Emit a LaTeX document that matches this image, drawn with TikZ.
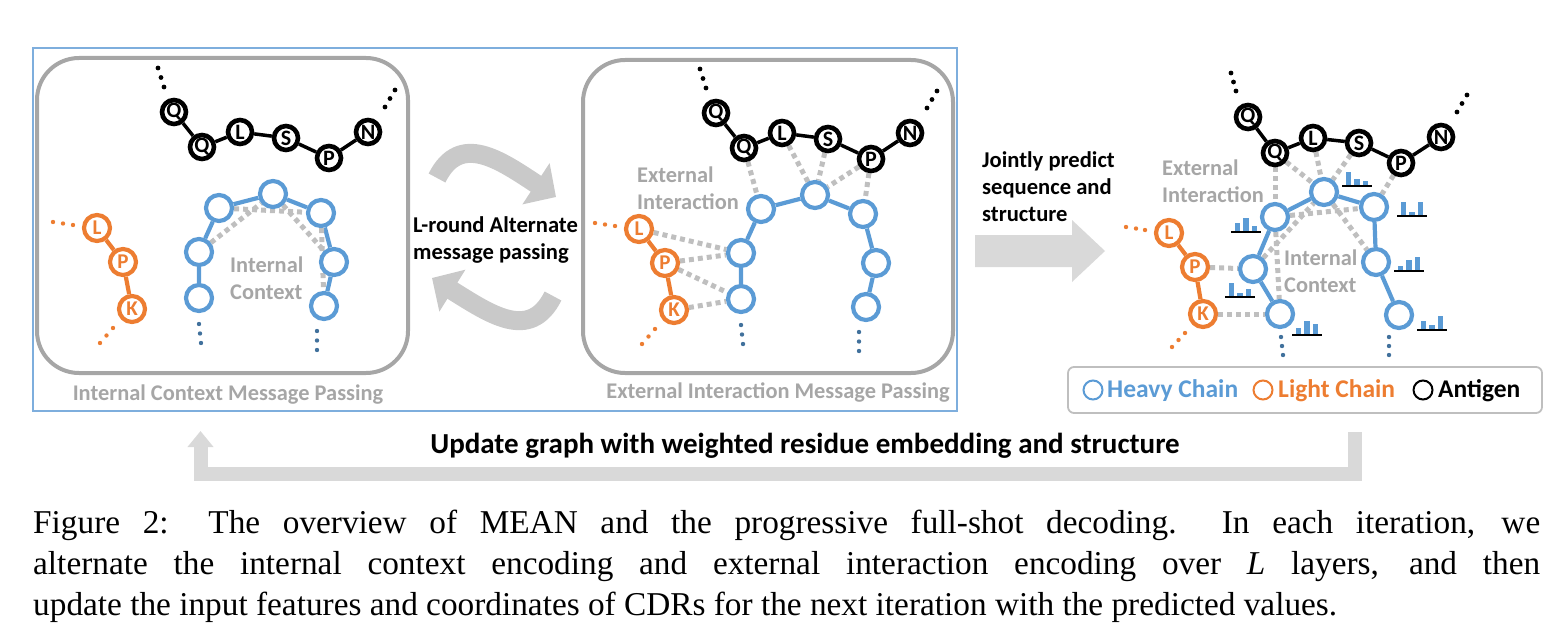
\documentclass[tikz,border=0pt]{standalone}
\usepackage{fontspec}
\setmainfont{Liberation Serif}
\newfontfamily\calfont{Carlito}
\usetikzlibrary{arrows.meta,backgrounds}
\definecolor{hblue}{HTML}{5B9BD5}
\definecolor{lorange}{HTML}{ED7D31}
\definecolor{boxgray}{HTML}{A6A6A6}
\definecolor{txtgray}{HTML}{A6A6A6}
\definecolor{dashgray}{HTML}{BFBFBF}
\definecolor{dotblue}{HTML}{41719C}
\definecolor{arrgray}{HTML}{C9C9C9}
\definecolor{lightarr}{HTML}{D9D9D9}
\definecolor{frameblue}{HTML}{7EAEDD}
\definecolor{legendgray}{HTML}{BFBFBF}
\tikzset{
  ag/.style={circle, draw=black, line width=4.6pt, fill=white, minimum size=24pt, inner sep=0pt, font=\calfont\bfseries\fontsize{22}{22}\selectfont},
  hc/.style={circle, draw=hblue, line width=4.2pt, fill=white, minimum size=26pt, inner sep=0pt},
  lc/.style={circle, draw=lorange, line width=4.2pt, fill=white, minimum size=26pt, inner sep=0pt, text=lorange, font=\calfont\bfseries\fontsize{21}{21}\selectfont},
  agl/.style={black, line width=3.5pt},
  hcl/.style={hblue, line width=4.2pt},
  lcl/.style={lorange, line width=4.2pt},
  ctx/.style={dashgray, line width=5pt, dash pattern=on 5pt off 4pt},
  graylbl/.style={text=txtgray, font=\calfont\bfseries\fontsize{22.4}{27}\selectfont, inner sep=0pt, align=left},
  blacklbl/.style={text=black, font=\calfont\bfseries\fontsize{22.6}{27}\selectfont, inner sep=0pt, align=left},
  panelbox/.style={draw=boxgray, line width=4pt, rounded corners=42pt},
  legtxt/.style={font=\calfont\bfseries\fontsize{25.5}{25.5}\selectfont, inner sep=0pt, anchor=west},
  legcirc/.style={circle, line width=2pt, minimum size=19pt, inner sep=0pt},
  bigarrow/.style={lightarr},
  curvarrow/.style={arrgray, line width=19pt, -{Triangle[length=24pt,width=48pt]}},
  captxt/.style={anchor=base west, inner sep=0pt, font=\fontsize{33.3}{40}\selectfont},
}
% chains of the left / middle panels (prefix #1)
\newcommand{\chainpanel}[1]{%
  \node[ag] (#1Q1) at (174,112) {Q};
  \node[ag] (#1Q2) at (202,147) {Q};
  \node[ag] (#1L)  at (240,132) {L};
  \node[ag] (#1S)  at (286,138) {S};
  \node[ag] (#1P)  at (329,158) {P};
  \node[ag] (#1N)  at (368,132) {N};
  \fill (158,68) circle (2.4pt); \fill (161,77.5) circle (2.4pt); \fill (164,87) circle (2.4pt);
  \fill (395,90) circle (2.4pt); \fill (390,98.5) circle (2.4pt); \fill (385,107) circle (2.4pt);
  \node[lc] (#1oL) at (97,228) {L};
  \node[lc] (#1oP) at (123,262) {P};
  \node[lc] (#1oK) at (132,309) {K};
  \fill[lorange] (53,222) circle (2.2pt); \fill[lorange] (63,223.5) circle (2.2pt); \fill[lorange] (73,225) circle (2.2pt);
  \fill[lorange] (100,343) circle (2.2pt); \fill[lorange] (106.5,335.5) circle (2.2pt); \fill[lorange] (113,328) circle (2.2pt);
  \node[hc] (#1b1) at (199,252) {};
  \node[hc] (#1b2) at (219,208) {};
  \node[hc] (#1b3) at (273,194) {};
  \node[hc] (#1b4) at (321,213) {};
  \node[hc] (#1b5) at (334,262) {};
  \node[hc] (#1b6) at (324,306) {};
  \node[hc] (#1b7) at (199,298) {};
  \fill[dotblue] (199,324) circle (2.2pt); \fill[dotblue] (200,333.5) circle (2.2pt); \fill[dotblue] (201,343) circle (2.2pt);
  \fill[dotblue] (317,331) circle (2.2pt); \fill[dotblue] (317,340.5) circle (2.2pt); \fill[dotblue] (317,350) circle (2.2pt);
  \begin{pgfonlayer}{background}
    \draw[agl] (#1Q1) -- (#1Q2) -- (#1L) -- (#1S) -- (#1P) -- (#1N);
    \draw[lcl] (#1oL) -- (#1oP) -- (#1oK);
    \draw[hcl] (#1b7) -- (#1b1) -- (#1b2) -- (#1b3) -- (#1b4) -- (#1b5) -- (#1b6);
  \end{pgfonlayer}
}
% histogram: x, y(baseline), h1, h2, h3
\newcommand{\hist}[5]{%
  \fill[hblue] (#1+3.5,#2) rectangle ++(5.8,-#3);
  \fill[hblue] (#1+12,#2) rectangle ++(5.8,-#4);
  \fill[hblue] (#1+20.5,#2) rectangle ++(5.8,-#5);
  \draw[black, line width=1.1pt] (#1,#2) -- ++(30,0);
}
\begin{document}
\begin{tikzpicture}[x=1pt,y=-1pt]
\useasboundingbox (0,0) rectangle (1565,634);

% frame and panel boxes
\draw[frameblue, line width=1.3pt] (33,48) rectangle (957,411);
\draw[panelbox] (37,58) rectangle (408,373);
\draw[panelbox] (583,60) rectangle (953,373);
\node[graylbl] (t1) at (228,395) {Internal Context Message Passing};
\node[graylbl] (t2) at (778,393) {External Interaction Message Passing};

% left panel
\chainpanel{l}
\node[graylbl, anchor=west] (lic) at (230,278) {Internal\\Context};
\begin{pgfonlayer}{background}
  \draw[ctx] (lb1) -- (lb3);
  \draw[ctx] (lb2) -- (lb4);
  \draw[ctx] (lb3) -- (lb5);
  \draw[ctx] (lb4) -- (lb6);
\end{pgfonlayer}

% middle panel
\begin{scope}[shift={(542,1)}]
\chainpanel{m}
\end{scope}
\node[graylbl, anchor=west] (mei) at (637,188) {External\\Interaction};
\begin{pgfonlayer}{background}
  \draw[ctx] (mQ2) -- (mb2);
  \draw[ctx] (mL) -- (mb3);
  \draw[ctx] (mS) -- (mb3);
  \draw[ctx] (mP) -- (mb3);
  \draw[ctx] (mP) -- (mb4);
  \draw[ctx] (moL) -- (mb1);
  \draw[ctx] (moP) -- (mb1);
  \draw[ctx] (moP) -- (mb7);
  \draw[ctx] (moK) -- (mb7);
\end{pgfonlayer}

% alternating arrows
\node[blacklbl, anchor=west] (alt) at (413,240) {L-round Alternate\\message passing};
\coordinate (a1s) at (437,178);
\coordinate (a1e) at (556,197);
\coordinate (a2s) at (553,296);
\coordinate (a2e) at (432,278);
\draw[curvarrow] (a1s) .. controls (460,132) and (500,160) .. (a1e);
\draw[curvarrow] (a2s) .. controls (530,342) and (490,314) .. (a2e);

% right big arrow
\node[blacklbl, anchor=west] (jp) at (982,187) {Jointly predict\\sequence and\\structure};
\fill[bigarrow] (975,235) -- (1072,235) -- (1072,220) -- (1105,251) -- (1072,282) -- (1072,267) -- (975,267) -- cycle;

% right panel
\node[ag] (rQ1) at (1248,117) {Q};
\node[ag] (rQ2) at (1275,153) {Q};
\node[ag] (rL)  at (1313,138) {L};
\node[ag] (rS)  at (1359,143) {S};
\node[ag] (rP)  at (1401,163) {P};
\node[ag] (rN)  at (1441,137) {N};
\fill (1231,73) circle (2.4pt); \fill (1233.5,82) circle (2.4pt); \fill (1236,91) circle (2.4pt);
\fill (1467,95) circle (2.4pt); \fill (1462,103.5) circle (2.4pt); \fill (1457,112) circle (2.4pt);
\node[lc] (roL) at (1169,233) {L};
\node[lc] (roP) at (1195,267) {P};
\node[lc] (roK) at (1203,314) {K};
\fill[lorange] (1126,227) circle (2.2pt); \fill[lorange] (1136,228.5) circle (2.2pt); \fill[lorange] (1145,230) circle (2.2pt);
\fill[lorange] (1172,347) circle (2.2pt); \fill[lorange] (1178.5,340) circle (2.2pt); \fill[lorange] (1185,333) circle (2.2pt);
\node[hc] (rb1) at (1253,269) {};
\node[hc] (rb2) at (1275,217) {};
\node[hc] (rb3) at (1324,192) {};
\node[hc] (rb4) at (1374,207) {};
\node[hc] (rb5) at (1376,262) {};
\node[hc] (rb6) at (1399,315) {};
\node[hc] (rb7) at (1280,314) {};
\fill[dotblue] (1281,337) circle (2.2pt); \fill[dotblue] (1282,346) circle (2.2pt); \fill[dotblue] (1283,355) circle (2.2pt);
\fill[dotblue] (1389,337) circle (2.2pt); \fill[dotblue] (1389,346) circle (2.2pt); \fill[dotblue] (1389,355) circle (2.2pt);
\node[graylbl, anchor=west] (rei) at (1162,181) {External\\Interaction};
\node[graylbl, anchor=west] (ric) at (1284,271) {Internal\\Context};
\begin{pgfonlayer}{background}
  \draw[agl] (rQ1) -- (rQ2) -- (rL) -- (rS) -- (rP) -- (rN);
  \draw[lcl] (roL) -- (roP) -- (roK);
  \draw[hcl] (rb7) -- (rb1) -- (rb2) -- (rb3) -- (rb4) -- (rb5) -- (rb6);
  \draw[ctx] (rQ2) -- (rb2);
  \draw[ctx] (rQ2) -- (rb3);
  \draw[ctx] (rL) -- (rb3);
  \draw[ctx] (rS) -- (rb3);
  \draw[ctx] (rP) -- (rb4);
  \draw[ctx] (roP) -- (rb1);
  \draw[ctx] (roK) -- (rb7);
  \draw[ctx] (rb1) -- (rb3);
  \draw[ctx] (rb2) -- (rb4);
  \draw[ctx] (rb3) -- (rb5);
  \draw[ctx] (rb2) -- (rb7);
\end{pgfonlayer}
\hist{1342}{186}{14}{7}{5}
\hist{1397}{216}{14}{4}{14}
\hist{1231}{232}{9}{14}{6}
\hist{1394}{271}{5}{11}{14}
\hist{1225}{297}{14}{4}{8}
\hist{1292}{335}{7}{14}{11}
\hist{1417}{330}{9}{5}{14}

% legend
\node[draw=legendgray, line width=1.8pt, rounded corners=6pt, minimum width=474pt, minimum height=46pt, inner sep=0pt] (legend) at (1305,390) {};
\node[legcirc, draw=hblue] (lgh) at (1093,390) {};
\node[legtxt, text=hblue] (lght) at (1107,391) {Heavy Chain};
\node[legcirc, draw=lorange] (lgl) at (1263,390) {};
\node[legtxt, text=lorange] (lglt) at (1278,391) {Light Chain};
\node[legcirc, draw=black] (lga) at (1423,390) {};
\node[legtxt, text=black] (lgat) at (1438,391) {Antigen};

% feedback arrow
\coordinate (fbs) at (1355,432);
\coordinate (fbc1) at (1355,473.5);
\coordinate (fbc2) at (200.5,473.5);
\coordinate (fbe) at (200.5,431);
\draw[lightarr, line width=14pt, -{Triangle[length=16pt,width=25pt]}] (fbs) -- (fbc1) -- (fbc2) -- (fbe);
\node[blacklbl, font=\calfont\bfseries\fontsize{29}{29}\selectfont] (upd) at (805,446) {Update graph with weighted residue embedding and structure};

% caption
\node[captxt] (cap1) at (33,533) {\makebox[1507pt][s]{Figure 2: The overview of MEAN and the progressive full-shot decoding.\ \ In each iteration, we}};
\node[captxt] (cap2) at (33,574) {\makebox[1507pt][s]{alternate the internal context encoding and external interaction encoding over \textit{L} layers, and then}};
\node[captxt] (cap3) at (33,615) {update the input features and coordinates of CDRs for the next iteration with the predicted values.};
\end{tikzpicture}
\end{document}
